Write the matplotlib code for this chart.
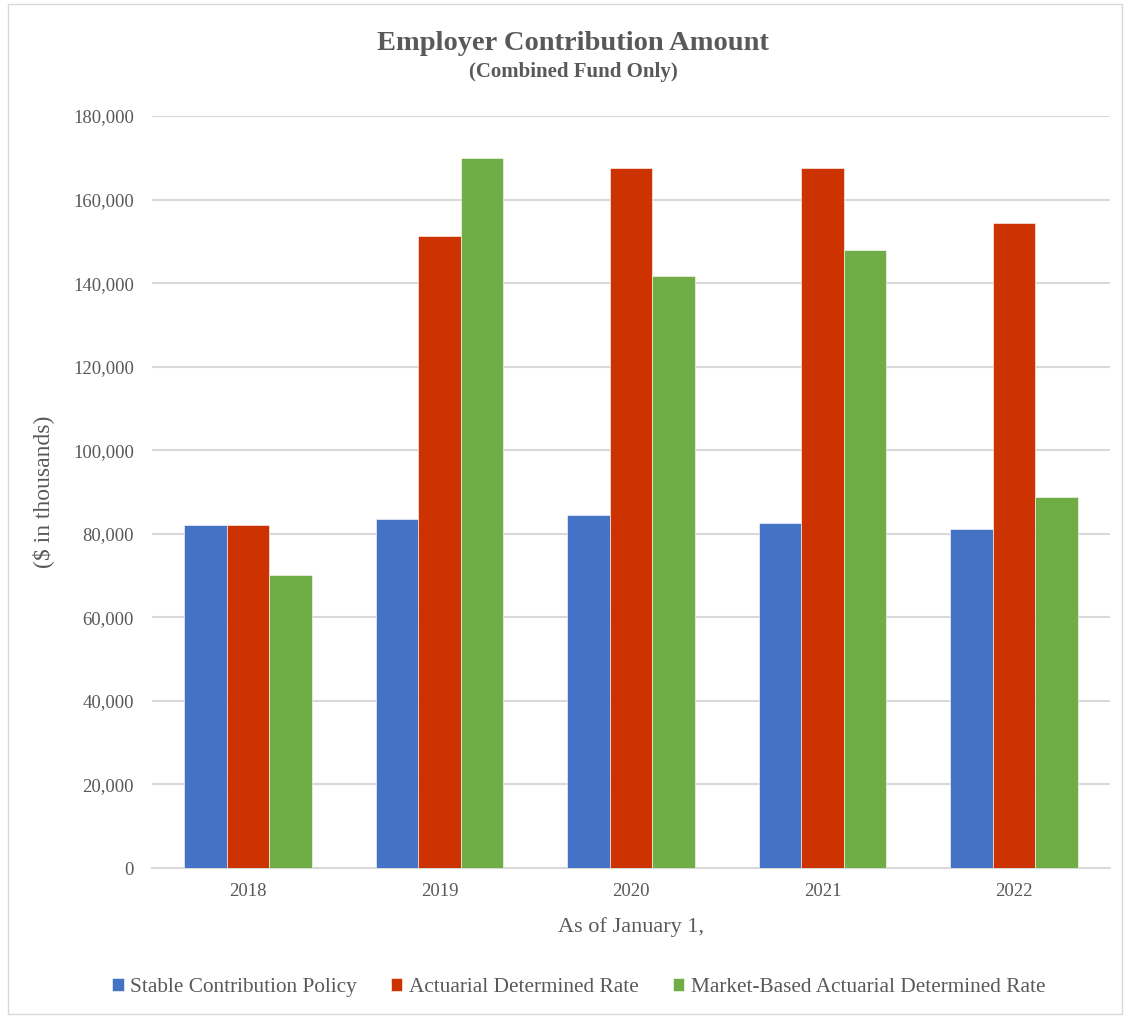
import numpy as np
import matplotlib
matplotlib.use('Agg')
import matplotlib.pyplot as plt
from matplotlib.patches import Rectangle
from matplotlib.ticker import FuncFormatter

plt.rcParams['font.family'] = ['Liberation Serif', 'DejaVu Serif']

# Datos (miles de dólares)
anios = ['2018', '2019', '2020', '2021', '2022']
estable = [82100, 83500, 84500, 82600, 81100]
actuarial = [82100, 151300, 167500, 167500, 154300]
mercado = [70100, 169900, 141700, 148000, 88700]
series = ['Stable Contribution Policy', 'Actuarial Determined Rate',
          'Market-Based Actuarial Determined Rate']
colores = ['#4472C4', '#CC3300', '#70AD47']
gris = '#595959'

fig = plt.figure(figsize=(11.3, 10.18), dpi=100)
ax = fig.add_axes([0.1345, 0.1473, 0.8478, 0.7387])

x = np.arange(len(anios))
ancho = 0.222
for i, (vals, nombre, col) in enumerate(zip([estable, actuarial, mercado], series, colores)):
    ax.bar(x + (i - 1) * ancho, vals, ancho, color=col, label=nombre,
           edgecolor='white', linewidth=0.4, zorder=3)

ax.set_xlim(-0.5, len(anios) - 0.5)
ax.set_ylim(0, 180000)
ax.set_yticks(np.arange(0, 180001, 20000))
ax.yaxis.set_major_formatter(FuncFormatter(lambda v, p: f'{int(v):,}'))
ax.set_xticks(x)
ax.set_xticklabels(anios)
ax.grid(axis='y', color='#d9d9d9', linewidth=1.5, zorder=0)
for s in ['top', 'right', 'left']:
    ax.spines[s].set_visible(False)
ax.spines['bottom'].set_color('#d9d9d9')
ax.spines['bottom'].set_linewidth(1.5)
ax.tick_params(axis='both', length=0, labelsize=13.5, colors=gris)
ax.tick_params(axis='y', pad=13)
ax.tick_params(axis='x', pad=11)

ax.set_xlabel('As of January 1,', fontsize=16, color=gris, labelpad=12)
ax.set_ylabel('($ in thousands)', fontsize=17, color=gris, labelpad=14)

fig.text(0.507, 0.957, 'Employer Contribution Amount', ha='center', va='center',
         fontsize=20.5, fontweight='bold', color=gris)
fig.text(0.507, 0.929, '(Combined Fund Only)', ha='center', va='center',
         fontsize=15, fontweight='bold', color=gris)

leg = fig.legend(loc='center', bbox_to_anchor=(0.512, 0.03), ncol=3, frameon=False,
                 fontsize=15.3, handlelength=0.55, handleheight=0.55, handletextpad=0.3,
                 columnspacing=1.6)
for t in leg.get_texts():
    t.set_color(gris)

# Borde de la figura
fig.patches.append(Rectangle((0.007, 0.004), 0.986, 0.992, transform=fig.transFigure,
                             fill=False, edgecolor='#d9d9d9', linewidth=1))

fig.savefig('out.png', dpi=100)
